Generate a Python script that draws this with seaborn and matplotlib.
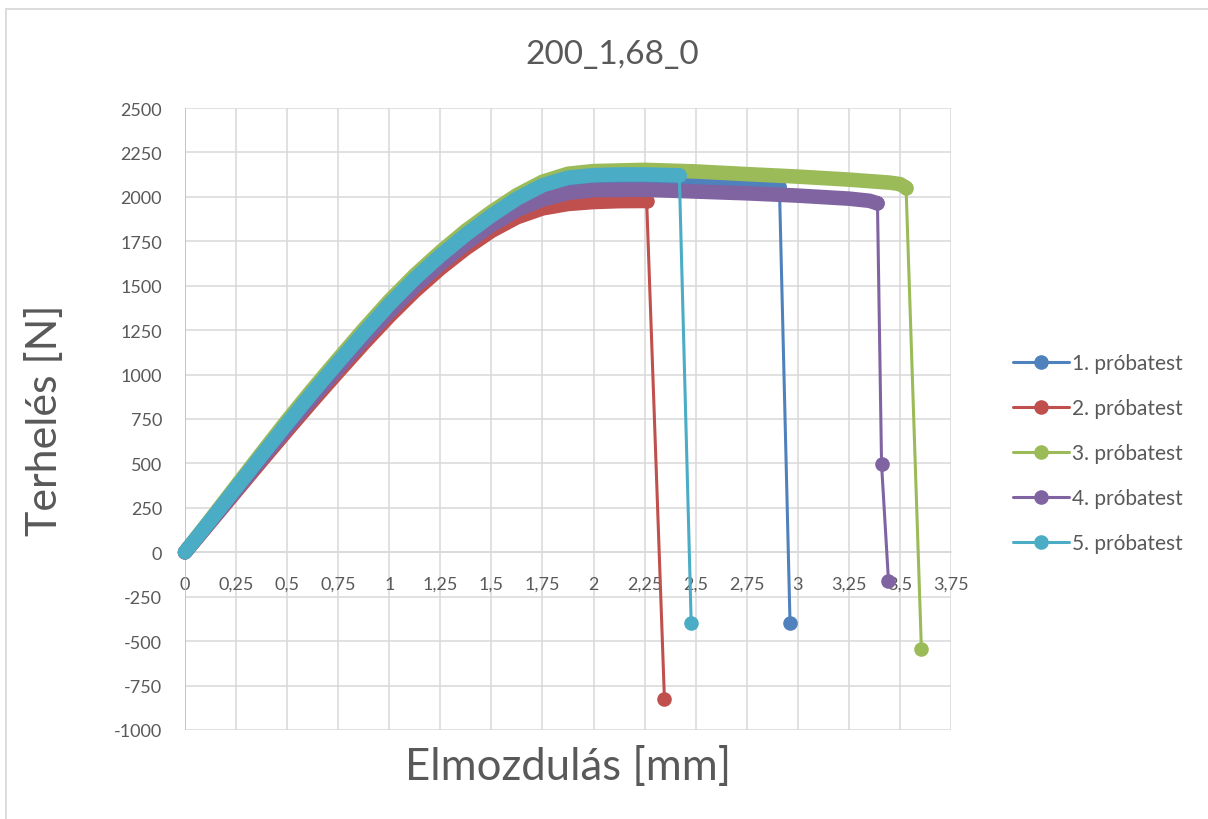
import matplotlib
matplotlib.use("Agg")
import matplotlib.pyplot as plt
from matplotlib.lines import Line2D
import seaborn as sns

# ---------------- data ----------------
title = "200_1,68_0"
x_label = "Elmozdulás [mm]"
y_label = "Terhelés [N]"
series_names = ["1. próbatest", "2. próbatest", "3. próbatest", "4. próbatest", "5. próbatest"]

s1_curve_x = [0, 0.125, 0.25, 0.375, 0.5, 0.625, 0.75, 0.875, 1.0, 1.125, 1.25, 1.375, 1.5, 1.625, 1.75, 1.875, 2.0, 2.25, 2.5, 2.75, 2.91]
s1_curve_y = [0, 177, 356, 535, 712, 885, 1052, 1215, 1372, 1515, 1643, 1760, 1862, 1950, 2015, 2055, 2070, 2074, 2068, 2063, 2057]
s1_drop_x = [2.962]
s1_drop_y = [-400]

s2_curve_x = [0, 0.125, 0.25, 0.375, 0.5, 0.625, 0.75, 0.875, 1.0, 1.125, 1.25, 1.375, 1.5, 1.625, 1.75, 1.875, 2.0, 2.125, 2.26]
s2_curve_y = [0, 171, 343, 515, 685, 852, 1015, 1175, 1328, 1470, 1597, 1710, 1808, 1885, 1935, 1960, 1971, 1976, 1977]
s2_drop_x = [2.347]
s2_drop_y = [-823]

s3_curve_x = [0, 0.125, 0.25, 0.375, 0.5, 0.625, 0.75, 0.875, 1.0, 1.125, 1.25, 1.375, 1.5, 1.625, 1.75, 1.875, 2.0, 2.25, 2.5, 2.75, 3.0, 3.25, 3.45, 3.5, 3.53]
s3_curve_y = [0, 185, 372, 558, 742, 918, 1088, 1255, 1415, 1560, 1690, 1810, 1915, 2010, 2085, 2130, 2145, 2152, 2143, 2128, 2114, 2097, 2080, 2072, 2052]
s3_drop_x = [3.605]
s3_drop_y = [-542]

s4_curve_x = [0, 0.125, 0.25, 0.375, 0.5, 0.625, 0.75, 0.875, 1.0, 1.125, 1.25, 1.375, 1.5, 1.625, 1.75, 1.875, 2.0, 2.25, 2.5, 2.75, 3.0, 3.25, 3.35, 3.39]
s4_curve_y = [0, 174, 350, 526, 700, 870, 1035, 1197, 1352, 1495, 1622, 1738, 1840, 1925, 1985, 2022, 2038, 2040, 2030, 2020, 2007, 1990, 1978, 1964]
s4_drop_x = [3.41, 3.444]
s4_drop_y = [495, -161]

s5_curve_x = [0, 0.125, 0.25, 0.375, 0.5, 0.625, 0.75, 0.875, 1.0, 1.125, 1.25, 1.375, 1.5, 1.625, 1.75, 1.875, 2.0, 2.125, 2.25, 2.42]
s5_curve_y = [0, 180, 362, 545, 725, 900, 1070, 1235, 1395, 1540, 1670, 1788, 1895, 1990, 2065, 2108, 2122, 2126, 2126, 2121]
s5_drop_x = [2.478]
s5_drop_y = [-396]

x_ticks = [0, 0.25, 0.5, 0.75, 1, 1.25, 1.5, 1.75, 2, 2.25, 2.5, 2.75, 3, 3.25, 3.5, 3.75]
x_tick_labels = ["0", "0,25", "0,5", "0,75", "1", "1,25", "1,5", "1,75", "2", "2,25", "2,5", "2,75", "3", "3,25", "3,5", "3,75"]
y_ticks = [-1000, -750, -500, -250, 0, 250, 500, 750, 1000, 1250, 1500, 1750, 2000, 2250, 2500]
y_tick_labels = [str(v) for v in y_ticks]

colors = ["#4F81BD", "#C0504D", "#9BBB59", "#8064A2", "#4BACC6"]

# ---------------- style ----------------
sns.set_style("white")
plt.rcParams["font.family"] = ["Lato", "DejaVu Sans"]
text_color = "#595959"
grid_color = "#d9d9d9"

W, H = 1208, 820
fig = plt.figure(figsize=(W / 100, H / 100), dpi=100)
fig.patch.set_facecolor("white")
# chart border: only top and left edges fall inside the picture
fig.add_artist(Line2D([6 / W, 1.0], [1 - 10 / H, 1 - 10 / H], transform=fig.transFigure,
                      color="#d9d9d9", linewidth=1.3))
fig.add_artist(Line2D([6 / W, 6 / W], [0.0, 1 - 10 / H], transform=fig.transFigure,
                      color="#d9d9d9", linewidth=1.3))

left, right, top, bottom = 185, 951, 109, 731
ax = fig.add_axes([left / W, 1 - bottom / H, (right - left) / W, (bottom - top) / H])

band_w = 10.5
marker_s = 10.5
thin_w = 2.2

series = [
    (s1_curve_x, s1_curve_y, s1_drop_x, s1_drop_y),
    (s2_curve_x, s2_curve_y, s2_drop_x, s2_drop_y),
    (s3_curve_x, s3_curve_y, s3_drop_x, s3_drop_y),
    (s4_curve_x, s4_curve_y, s4_drop_x, s4_drop_y),
    (s5_curve_x, s5_curve_y, s5_drop_x, s5_drop_y),
]

z = 3
for (cx, cy, dx, dy), col in zip(series, colors):
    sns.lineplot(x=cx, y=cy, sort=False, estimator=None, color=col, linewidth=band_w,
                 solid_capstyle="round", solid_joinstyle="round", ax=ax,
                 legend=False, clip_on=False, zorder=z)
    tx = [cx[-1]] + dx
    ty = [cy[-1]] + dy
    sns.lineplot(x=tx, y=ty, sort=False, estimator=None, color=col, linewidth=thin_w,
                 marker="o", markersize=marker_s, markeredgewidth=0, ax=ax,
                 legend=False, clip_on=False, zorder=z + 0.5)
    z += 1

ax.set_xlim(0, 3.75)
ax.set_ylim(-1000, 2500)
ax.set_xticks(x_ticks)
ax.set_xticklabels(x_tick_labels)
ax.set_yticks(y_ticks)
ax.set_yticklabels(y_tick_labels)
ax.grid(True, color=grid_color, linewidth=1.1)
ax.set_axisbelow(True)
for s in ["top", "right", "left"]:
    ax.spines[s].set_visible(False)
ax.spines["bottom"].set_position(("data", 0))
ax.spines["bottom"].set_color(grid_color)
ax.spines["bottom"].set_linewidth(1.1)
ax.axvline(0, color="#bfbfbf", linewidth=1.1, zorder=1)
ax.tick_params(axis="both", length=0, labelsize=13, colors=text_color)
ax.tick_params(axis="x", pad=17)
ax.tick_params(axis="y", pad=16.5)
ax.set_xlabel("")
ax.set_ylabel("")

fig.text((left + right) / 2 / W, 1 - 768 / H, x_label, ha="center", va="center",
         fontsize=31.5, color=text_color)
fig.text(45 / W, 1 - 420 / H, y_label, ha="center", va="center", rotation=90,
         fontsize=31, color=text_color)
fig.text(612 / W, 1 - 55 / H, title, ha="center", va="center", fontsize=24, color=text_color)

handles = [Line2D([0], [0], color=c, linewidth=thin_w, marker="o", markersize=marker_s,
                  markeredgewidth=0) for c in colors]
fig.legend(handles, series_names, loc="center left", bbox_to_anchor=(1013 / W, 1 - 454 / H),
           frameon=False, fontsize=15, labelcolor=text_color, handlelength=2.7,
           handletextpad=0.15, labelspacing=1.2, borderpad=0, borderaxespad=0)

fig.savefig("out.png", dpi=100, facecolor="white")
